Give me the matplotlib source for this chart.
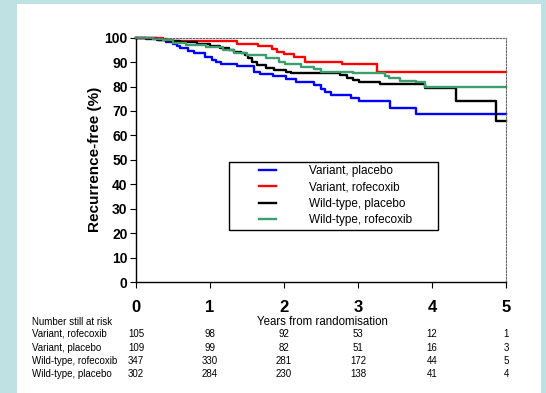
import numpy as np
import matplotlib
matplotlib.use('Agg')
import matplotlib.pyplot as plt
import matplotlib.transforms as mtransforms
from matplotlib.patches import Rectangle
from matplotlib.lines import Line2D
from matplotlib.legend_handler import HandlerLine2D

plt.rcParams['font.family'] = ['Liberation Sans', 'DejaVu Sans']

# curvas de Kaplan-Meier (anos, % libre de recurrencia)
t_var_plac = [0, 0.28, 0.40, 0.50, 0.55, 0.60, 0.70, 0.79, 0.93, 1.03, 1.08, 1.15, 1.37, 1.60,
              1.68, 1.85, 2.03, 2.16, 2.41, 2.50, 2.56, 2.63, 2.90, 3.01, 3.43, 3.78, 5.0]
v_var_plac = [100, 99.1, 98.2, 97.5, 96.6, 95.6, 94.7, 93.6, 92.2, 90.9, 90.2, 89.1, 88.4, 86.1,
              85.1, 84.3, 83.0, 82.0, 80.6, 79.2, 77.9, 76.5, 75.2, 74.1, 71.4, 68.6, 68.6]

t_var_rof = [0, 0.36, 0.42, 1.36, 1.65, 1.84, 1.90, 2.00, 2.14, 2.28, 2.79, 3.26, 5.0]
v_var_rof = [100, 99.4, 98.5, 97.5, 96.6, 95.3, 94.3, 93.3, 92.2, 90.2, 89.1, 85.9, 85.9]

t_wt_plac = [0, 0.14, 0.30, 0.41, 0.59, 0.82, 1.00, 1.13, 1.25, 1.32, 1.42, 1.47, 1.52, 1.57,
             1.63, 1.76, 1.86, 2.03, 2.10, 2.76, 2.85, 2.93, 3.02, 3.30, 3.91, 4.33, 4.86, 5.0]
v_wt_plac = [100, 99.5, 99.1, 98.6, 98.1, 97.4, 96.8, 95.8, 95.0, 94.3, 93.6, 92.8, 91.5, 90.2,
             88.8, 87.5, 86.8, 85.8, 85.4, 84.7, 83.6, 82.7, 81.7, 80.9, 79.3, 74.2, 66.0, 66.0]

t_wt_rof = [0, 0.23, 0.36, 0.50, 0.68, 0.95, 1.17, 1.32, 1.50, 1.76, 1.93, 2.02, 2.23, 2.40,
            2.50, 2.93, 3.36, 3.42, 3.57, 3.79, 3.90, 5.0]
v_wt_rof = [100, 99.5, 99.0, 97.9, 97.0, 96.1, 95.0, 93.9, 93.0, 91.6, 90.2, 89.1, 88.2, 87.1,
            86.1, 85.4, 84.3, 83.4, 82.4, 81.7, 79.8, 79.8]

years = [0, 1, 2, 3, 4, 5]
y_ticks = [0, 10, 20, 30, 40, 50, 60, 70, 80, 90, 100]

# tabla de numero en riesgo
risk_labels = ['Variant, rofecoxib', 'Variant, placebo', 'Wild-type, rofecoxib', 'Wild-type, placebo']
risk_numbers = [[105, 98, 92, 53, 12, 1],
                [109, 99, 82, 51, 16, 3],
                [347, 330, 281, 172, 44, 5],
                [302, 284, 230, 138, 41, 4]]

W, H = 546, 393

def fx(px):
    return px / W

def fy(py):
    return 1 - py / H

fig = plt.figure(figsize=(W / 100, H / 100), dpi=100)
fig.patch.set_facecolor('#BEE1E4')
fig.add_artist(Rectangle((fx(17), 0), fx(541) - fx(17), fy(4), transform=fig.transFigure,
                         facecolor='white', edgecolor='none', zorder=-5))

ax = fig.add_axes([fx(136), fy(282), fx(506) - fx(136), fy(37.7) - fy(282)])

lw = 1.7
l1, = ax.plot(t_var_plac, v_var_plac, drawstyle='steps-post', color='#0000FF', lw=lw, clip_on=False, label='Variant, placebo')
l2, = ax.plot(t_var_rof, v_var_rof, drawstyle='steps-post', color='#FF0000', lw=lw, clip_on=False, label='Variant, rofecoxib')
l3, = ax.plot(t_wt_plac, v_wt_plac, drawstyle='steps-post', color='black', lw=lw, clip_on=False, label='Wild-type, placebo')
l4, = ax.plot(t_wt_rof, v_wt_rof, drawstyle='steps-post', color='#3C9E6C', lw=lw, clip_on=False, label='Wild-type, rofecoxib')

ax.set_xlim(0, 5)
ax.set_ylim(0, 100)
ax.set_xticks(years)
ax.set_xticklabels([str(y) for y in years], fontsize=12, fontweight='bold')
ax.set_yticks(y_ticks)
ax.set_yticklabels([str(y) for y in y_ticks], fontsize=10, fontweight='bold')
ax.tick_params(axis='y', length=4, width=0.8, pad=2)
ax.tick_params(axis='x', length=4, width=0.8, pad=9)

for s in ['top', 'right']:
    ax.spines[s].set_linestyle((0, (1.5, 1.5)))
    ax.spines[s].set_color('#666666')
    ax.spines[s].set_linewidth(0.8)
ax.spines['bottom'].set_linestyle((0, (2.5, 1)))
ax.spines['bottom'].set_linewidth(1.0)
ax.spines['left'].set_linewidth(1.0)

ax.set_ylabel('Recurrence-free (%)', fontsize=11, fontweight='bold')
ax.yaxis.set_label_coords(-0.093, 0.5)

leg = ax.legend(handles=[l1, l2, l3, l4], loc='upper left',
                bbox_to_anchor=(fx(229), fy(233), fx(438) - fx(229), fy(161.7) - fy(233)),
                bbox_transform=fig.transFigure, mode='expand', borderaxespad=0,
                fontsize=8.5, borderpad=0.3, labelspacing=0.36,
                handlelength=3.69, handletextpad=2.8, fancybox=False, framealpha=1,
                handler_map={Line2D: HandlerLine2D(xpad=2.25)})
leg.get_frame().set_edgecolor('black')
leg.get_frame().set_linewidth(1.0)

# texto bajo el eje
fig.text(fx(322), fy(322), 'Years from randomisation', fontsize=8.3, ha='center', va='center')
fig.text(fx(32), fy(322), 'Number still at risk', fontsize=7, ha='left', va='center')

trans = mtransforms.blended_transform_factory(ax.transData, fig.transFigure)
row_y = [334, 348, 361, 374]
for i in range(len(risk_labels)):
    fig.text(fx(32), fy(row_y[i]), risk_labels[i], fontsize=7, ha='left', va='center')
    for j in range(len(years)):
        ax.text(years[j], fy(row_y[i]), str(risk_numbers[i][j]), transform=trans,
                fontsize=7, ha='center', va='center', clip_on=False)

fig.savefig('out.png', dpi=100)
